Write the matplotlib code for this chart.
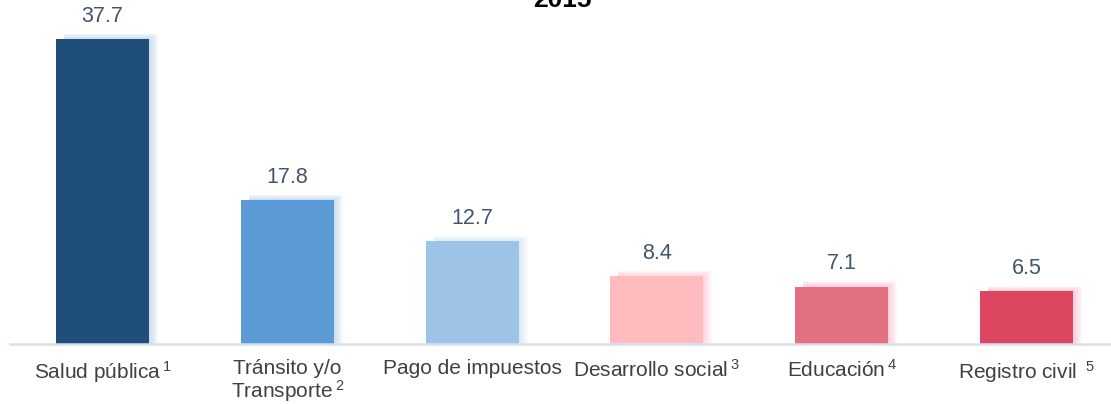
import matplotlib
matplotlib.use("Agg")
import matplotlib.pyplot as plt

plt.rcParams["font.family"] = ["Liberation Sans", "DejaVu Sans"]
plt.rcParams["mathtext.fontset"] = "custom"
plt.rcParams["mathtext.rm"] = "Liberation Sans"
plt.rcParams["mathtext.it"] = "Liberation Sans"

# ── data ────────────────────────────────────────────────────────────────
categories = [
    "Salud pública$\\,^{1}$",
    "Tránsito y/o\nTransporte$\\,^{2}$",
    "Pago de impuestos",
    "Desarrollo social$\\,^{3}$",
    "Educación$\\,^{4}$",
    "Registro civil $\\,^{5}$",
]
values = [37.7, 17.8, 12.7, 8.4, 7.1, 6.5]
colors = ["#1F4E79", "#5B9BD5", "#9DC3E6", "#FFBBBE", "#E27082", "#DC4660"]
glow_colors = ["#9DC3E6", "#9DC3E6", "#BDD7EE", "#FFB3C8", "#FFA8C0", "#FFA0B8"]
title = "2015"

W, H = 1111, 404
fig = plt.figure(figsize=(W / 100, H / 100), dpi=100)
ax_left, ax_right = 10, 1119
base_y, top_y = 344, 20.4
ax = fig.add_axes([ax_left / W, (H - base_y) / H,
                   (ax_right - ax_left) / W, (base_y - top_y) / H])
ax.set_xlim(-0.5, len(values) - 0.5)
ax.set_ylim(0, 40)

x = list(range(len(values)))
bw = 0.503

# soft glow behind each bar, spilling to the upper right
px_x = len(values) / (ax_right - ax_left)
px_y = 40 / (base_y - top_y)
for xi, v, gc in zip(x, values, glow_colors):
    for k in range(1, 10):
        ax.bar(xi - bw / 2 + 8 * px_x, v + k * 0.6 * px_y,
               width=bw - 8 * px_x + k * px_x, align="edge",
               color=gc, alpha=0.07, linewidth=0, zorder=1)

ax.bar(x, values, width=bw, color=colors, linewidth=0, zorder=2)
for xi, v in zip(x, values):
    ax.annotate(f"{v:.1f}", (xi, v), xytext=(0, 8.7), textcoords="offset points",
                ha="center", va="bottom", fontsize=15.5, color="#44546A",
                annotation_clip=False)

for s in ["top", "right", "left"]:
    ax.spines[s].set_visible(False)
ax.spines["bottom"].set_color("#D9E1EA")
ax.spines["bottom"].set_linewidth(1.8)
ax.spines["bottom"].set_zorder(3)
ax.set_yticks([])
ax.set_xticks(x)
ax.set_xticklabels(categories, fontsize=15, color="#404040", linespacing=1.0)
ax.tick_params(axis="x", length=0, pad=11)

fig.text(562 / W, 1 - 7 / H, title, ha="center",
         va="baseline", fontsize=19, fontweight="bold", color="black")

fig.savefig("out.png", dpi=100)
